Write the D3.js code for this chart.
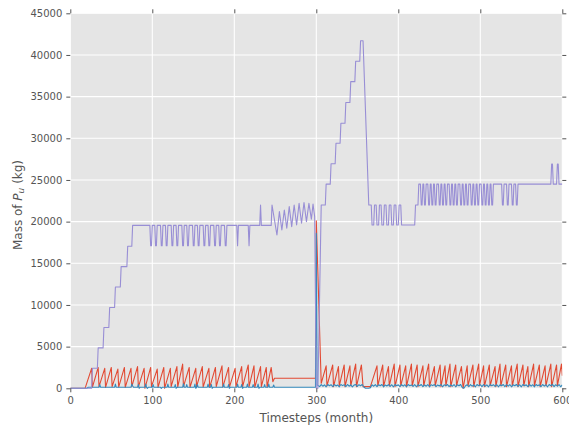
<!DOCTYPE html>
<html><head><meta charset="utf-8">
<script src="https://cdn.jsdelivr.net/npm/d3@7"></script>
<style>body{margin:0;background:#fff}</style>
</head><body><svg id="c" width="569" height="431"></svg>
<script>
const xTicks=[0,100,200,300,400,500,600];
const yTicks=[0,5000,10000,15000,20000,25000,30000,35000,40000,45000];
const xLabel="Timesteps (month)";
const seriesColors=["#E24A33","#348ABD","#988ED5"];

// red series: [month, kg]
const redSeries=[[0,0],[18,0],
[26,2400],[27,150],[34,2500],[35,200],[42,2400],[43,100],[50,2500],[51,200],[58,2300],[59,150],
[66,2500],[67,100],[74,2400],[75,200],[82,2600],[83,150],[90,2400],[91,0],[98,2500],[99,200],
[106,2300],[107,100],[114,2500],[115,0],[122,2400],[123,200],[130,2600],[131,150],[137,2900],[138,200],
[145,2500],[146,100],[153,2400],[154,200],[161,2600],[162,150],[169,2400],[170,100],[177,2500],[178,200],
[185,2700],[186,150],[193,2500],[194,100],[201,2400],[202,200],[209,2600],[210,150],[217,2800],[218,200],
[224,2700],[225,100],[232,2600],[233,200],[239,2500],[240,150],[245,2500],[247,800],[249,1200],[299,1200],
[300,20100],[306,600],
[312,2700],[313,300],[320,2800],[321,200],[327,2600],[328,300],[334,2800],[335,200],[341,2700],[342,300],
[348,2900],[349,200],[355,2800],[357,200],[366,200],
[374,2700],[375,300],[381,2800],[382,200],[388,2600],[389,300],[395,2900],[396,200],[402,2800],[403,300],
[409,2700],[410,200],[416,2900],[417,300],[423,2800],[424,200],[430,2700],[431,300],[437,2900],[438,200],
[444,2600],[445,300],[451,2800],[452,200],[457,2700],[458,300],[463,2900],[464,200],[470,2800],[471,300],
[477,2600],[479,0],[484,2700],[485,300],[491,2800],[492,200],[498,2900],[499,300],[504,2700],[505,200],
[511,2800],[512,300],[518,2600],[519,200],[524,2900],[525,300],[531,2800],[532,200],[538,2700],[539,300],
[545,2900],[546,200],[552,2800],[553,300],[558,2600],[559,200],[565,2900],[566,300],[572,2800],[573,200],
[579,2700],[580,300],[586,2900],[587,200],[593,2800],[594,300],[599,2900],[600,1500]];

// blue series: [month, kg]
const blueSeries=[[0,0],[20,0],[22,120],[35,120],[36,450],[37,120],[54,120],[55,500],[56,120],[74,120],[75,500],[76,300],[77,120],
[82,120],[83,450],[84,0],[85,120],[91,120],[92,500],[93,120],[94,0],[95,120],[100,120],[101,450],[102,120],
[110,120],[111,0],[112,120],[118,120],[119,500],[120,120],[127,120],[128,450],[129,0],[130,120],[137,120],[138,550],[139,120],
[141,120],[142,450],[143,120],[151,120],[152,500],[153,0],[154,120],[155,450],[156,120],[167,120],[168,500],[169,120],
[171,120],[172,450],[173,0],[174,120],[186,120],[187,500],[188,120],[192,120],[193,450],[194,0],[195,120],
[203,120],[204,500],[205,120],[208,120],[209,450],[210,0],[211,120],[215,120],[216,500],[217,120],
[222,120],[223,450],[224,120],[228,120],[229,500],[230,0],[231,120],[236,120],[237,450],[238,120],
[241,120],[242,500],[243,120],[247,120],[248,400],[249,120],[299,120],[300,18600],[301,400],
[302,350],[304,200],[306,450],[308,250],[310,420],[312,180],[314,450],[316,300],[318,430],[320,200],
[322,460],[324,280],[326,400],[328,180],[330,450],[332,320],[334,430],[336,200],[338,460],[340,250],
[342,420],[344,180],[346,380],[348,450],[350,220],[352,430],[354,300],[356,450],[358,150],[360,0],
[362,0],[364,0],[366,80],[368,420],[370,250],[372,450],[374,200],[376,430],[378,300],[380,460],
[382,180],[384,400],[386,280],[388,450],[390,220],[392,430],[394,180],[396,460],[398,300],[400,420],
[402,200],[404,450],[406,250],[408,430],[410,180],[412,460],[414,300],[416,400],[418,220],[420,450],
[422,180],[424,430],[426,300],[428,460],[430,200],[432,420],[434,250],[436,450],[438,180],[440,430],
[442,320],[444,460],[446,200],[448,400],[450,280],[452,450],[454,180],[456,430],[458,300],[460,460],
[462,200],[464,420],[466,250],[468,450],[470,180],[472,430],[474,300],[476,460],[478,100],[480,0],
[482,300],[484,430],[486,200],[488,450],[490,250],[492,420],[494,180],[496,460],[498,300],[500,430],
[502,200],[504,450],[506,250],[508,420],[510,180],[512,460],[514,300],[516,430],[518,220],[520,450],
[522,180],[524,420],[526,300],[528,460],[530,200],[532,430],[534,250],[536,450],[538,180],[540,420],
[542,300],[544,460],[546,220],[548,430],[550,180],[552,450],[554,300],[556,420],[558,200],[560,460],
[562,250],[564,430],[566,180],[568,450],[570,300],[572,420],[574,200],[576,460],[578,250],[580,430],
[582,180],[584,450],[586,300],[588,470],[590,200],[592,430],[594,250],[596,450],[598,180],[600,400]];

// purple series: [month, kg]
const purpleSeries=[[0,0],[26,0],[27,2400],[33,2400],[34,4850],[40,4850],[41,7300],[47,7300],[48,9700],[54,9700],
[55,12150],[61,12150],[62,14600],[69,14600],[70,17050],[75,17050],[76,19550],
[97,19550],[98,17100],[99,17100],[100,19550],[103,19550],[104,17100],[105,17100],[106,19550],
[110,19550],[111,17100],[112,17100],[113,19550],[116,19550],[117,17100],[118,17100],[119,19550],
[123,19550],[124,17100],[125,17100],[126,19550],[129,19550],[130,17100],[131,17100],[132,19550],
[136,19550],[137,17100],[138,17100],[139,19550],[142,19550],[143,17100],[144,17100],[145,19550],
[149,19550],[150,17100],[151,17100],[152,19550],[155,19550],[156,17100],[157,17100],[158,19550],
[162,19550],[163,17100],[164,17100],[165,19550],[168,19550],[169,17100],[170,17100],[171,19550],
[175,19550],[176,17100],[177,17100],[178,19550],[181,19550],[182,17100],[183,17100],[184,19550],
[188,19550],[189,17100],[190,17100],[191,19550],[203,19550],[204,17100],[205,19550],
[217,19550],[218,17100],[219,19550],[231,19550],[232,22000],[233,19550],
[245,19550],[246,22000],[252,18400],[255,21200],[258,19000],[261,21400],[264,19200],[267,21800],
[270,19400],[273,22000],[276,19600],[279,22200],[282,19800],[285,22300],[288,20000],[291,22200],
[294,20300],[296,22100],[298,20600],[300,0],[302,0],[306,22000],
[311,22000],[312,24500],[317,24500],[318,26950],[323,26950],[324,29400],[329,29400],[330,31800],
[335,31800],[336,34300],[341,34300],[342,36800],[347,36800],[348,39250],[353,39250],[354,41700],
[357,41700],[364,22000],
[367,22000],[368,19600],[370,19600],[371,22000],[373,22000],[374,19600],[376,19600],[377,22000],
[379,22000],[380,19600],[382,19600],[383,22000],[385,22000],[386,19600],[388,19600],[389,22000],
[391,22000],[392,19600],[394,19600],[395,22000],[397,22000],[398,19600],[400,19600],[401,22000],
[403,22000],[404,19600],[420,19600],[421,22000],[424,22000],[425,24500],
[427,24500],[428,22000],[429,22000],[430,24500],[431,24500],[432,22000],[433,22000],[434,24500],
[436,24500],[437,22000],[438,22000],[439,24500],[440,24500],[441,22000],[442,22000],[443,24500],
[444,24500],[445,22000],[446,22000],[447,24500],[449,24500],[450,22000],[451,22000],[452,24500],
[453,24500],[454,22000],[455,22000],[456,24500],[457,24500],[458,22000],[459,22000],[460,24500],
[462,24500],[463,22000],[464,22000],[465,24500],[466,24500],[467,22000],[468,22000],[469,24500],
[470,24500],[471,22000],[472,22000],[473,24500],[475,24500],[476,22000],[477,22000],[478,24500],
[479,24500],[480,22000],[481,22000],[482,24500],[483,24500],[484,22000],[485,22000],[486,24500],
[488,24500],[489,22000],[490,22000],[491,24500],[492,24500],[493,22000],[494,22000],[495,24500],
[496,24500],[497,22000],[498,22000],[499,24500],[501,24500],[502,22000],[503,22000],[504,24500],
[505,24500],[506,22000],[507,22000],[508,24500],[509,24500],[510,22000],[511,22000],[512,24500],
[513,24500],[514,22000],[515,22000],[516,24500],
[526,24500],[527,22000],[528,22000],[529,24500],[532,24500],[533,22000],[534,22000],[535,24500],
[538,24500],[539,22000],[540,22000],[541,24500],[543,24500],[544,22000],[545,22000],[546,24500],
[586,24500],[587,26900],[588,26900],[589,24500],[593,24500],[594,26900],[595,26900],[596,24500],[600,24500]];

const W=569,H=431;
const L=70.3,R=562.3,T=13.3,B=388.3;
const svg=d3.select("#c");
svg.append("rect").attr("width",W).attr("height",H).attr("fill","#fff");
const x=d3.scaleLinear().domain([0,600]).range([L,R]);
const y=d3.scaleLinear().domain([0,45000]).range([B,T]);

svg.append("rect").attr("x",L).attr("y",T).attr("width",R-L).attr("height",B-T).attr("fill","#E5E5E5");

// grid
const grid=svg.append("g");
grid.selectAll("line.gx").data(xTicks).join("line")
  .attr("x1",d=>x(d)).attr("x2",d=>x(d)).attr("y1",T).attr("y2",B)
  .attr("stroke","#fff").attr("stroke-width",1.1);
grid.selectAll("line.gy").data(yTicks).join("line").attr("class","gy")
  .attr("y1",d=>y(d)).attr("y2",d=>y(d)).attr("x1",L).attr("x2",R)
  .attr("stroke","#fff").attr("stroke-width",1.1);

// lines
const clip=svg.append("clipPath").attr("id","clp").append("rect")
  .attr("x",L).attr("y",T-2).attr("width",R-L).attr("height",B-T+3);
const line=d3.line().x(d=>x(d[0])).y(d=>y(d[1]));
const lines=svg.append("g").attr("clip-path","url(#clp)");
[redSeries,blueSeries,purpleSeries].forEach((s,i)=>{
  lines.append("path").datum(s).attr("d",line).attr("fill","none")
    .attr("stroke",seriesColors[i]).attr("stroke-width",1.1).attr("stroke-linejoin","round");
});

// axes
function styleAxis(g,hideText){
  g.select(".domain").remove();
  g.selectAll(".tick line").attr("stroke","#555555");
  g.selectAll(".tick text").attr("fill","#555555").style("font-family","'DejaVu Sans'").style("font-size","10px");
  if(hideText) g.selectAll(".tick text").remove();
}
svg.append("g").attr("transform",`translate(0,${B})`)
  .call(d3.axisBottom(x).tickValues(xTicks).tickSize(4).tickPadding(5).tickFormat(d3.format("d")))
  .call(g=>styleAxis(g,false));
svg.append("g").attr("transform",`translate(0,${T})`)
  .call(d3.axisTop(x).tickValues(xTicks).tickSize(4))
  .call(g=>styleAxis(g,true));
svg.append("g").attr("transform",`translate(${L},0)`)
  .call(d3.axisLeft(y).tickValues(yTicks).tickSize(4).tickPadding(4).tickFormat(d3.format("d")))
  .call(g=>styleAxis(g,false));
svg.append("g").attr("transform",`translate(${R},0)`)
  .call(d3.axisRight(y).tickValues(yTicks).tickSize(4))
  .call(g=>styleAxis(g,true));

svg.append("text").attr("x",(L+R)/2).attr("y",422).attr("text-anchor","middle")
  .style("font-family","'DejaVu Sans'").style("font-size","12px").attr("fill","#555555").text(xLabel);

const yl=svg.append("text").attr("transform","translate(22,205) rotate(-90)").attr("text-anchor","middle")
  .style("font-family","'DejaVu Sans'").style("font-size","12px").attr("fill","#555555");
yl.append("tspan").text("Mass of ");
yl.append("tspan").style("font-style","italic").text("P");
yl.append("tspan").style("font-style","italic").style("font-size","9px").attr("dy",1.5).text("u");
yl.append("tspan").attr("dy",-1.5).text(" (kg)");
</script></body></html>
